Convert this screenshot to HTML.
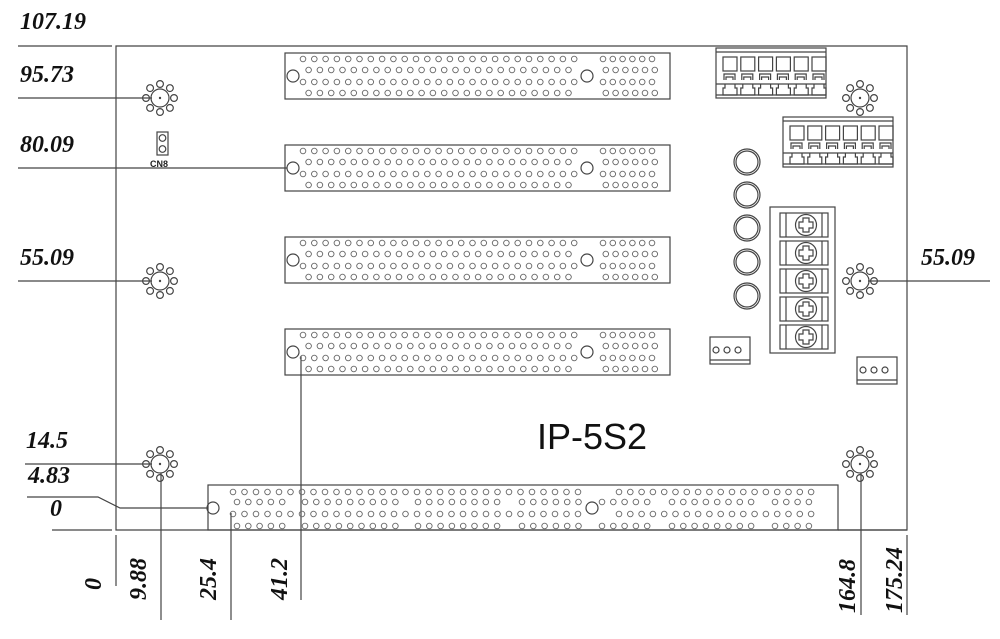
<!DOCTYPE html>
<html><head><meta charset="utf-8"><style>
html,body{margin:0;padding:0;background:#fff;}
svg{display:block;}
.d{font-family:"Liberation Serif",serif;font-style:italic;font-weight:bold;font-size:24px;fill:#111;}
</style></head><body>
<svg id="s" width="1000" height="639" viewBox="0 0 1000 639" xmlns="http://www.w3.org/2000/svg">
<g fill="none" stroke="#444" stroke-width="1.2">
<path d="M116 46 H907 V530 H116 Z"/>
<line x1="18" y1="46" x2="112" y2="46"/>
<line x1="52" y1="530" x2="112" y2="530"/>
<line x1="116" y1="535" x2="116" y2="586"/>
<line x1="18" y1="98" x2="152" y2="98"/>
<line x1="18" y1="168" x2="287" y2="168"/>
<line x1="18" y1="281" x2="152" y2="281"/>
<line x1="25" y1="464" x2="152" y2="464"/>
<polyline points="27,497 98,497 120,508 207,508"/>
<line x1="868" y1="281" x2="990" y2="281"/>
<line x1="161" y1="473" x2="161" y2="620"/>
<line x1="231" y1="513" x2="231" y2="620"/>
<line x1="301" y1="356" x2="301" y2="600"/>
<line x1="861" y1="473" x2="861" y2="615"/>
<line x1="907" y1="535" x2="907" y2="615"/>
<line x1="838" y1="530" x2="907" y2="530"/>
<rect x="285" y="53" width="385" height="46"/>
<rect x="285" y="145" width="385" height="46"/>
<rect x="285" y="237" width="385" height="46"/>
<rect x="285" y="329" width="385" height="46"/>
<rect x="208" y="485" width="630" height="45"/>
<rect x="157" y="132" width="11" height="23"/>
<circle cx="162.5" cy="138" r="3.3"/><circle cx="162.5" cy="149" r="3.3"/>
<g id="leds"></g>
<rect x="770" y="207" width="65" height="146"/>
<g id="screws"></g>
<g id="tb"></g>
<rect x="710" y="337" width="40" height="27"/><line x1="710" y1="360" x2="750" y2="360"/>
<rect x="857" y="357" width="40" height="27"/><line x1="857" y1="380" x2="897" y2="380"/>
<circle cx="716" cy="350" r="3"/><circle cx="727" cy="350" r="3"/><circle cx="738" cy="350" r="3"/>
<circle cx="863" cy="370" r="3"/><circle cx="874" cy="370" r="3"/><circle cx="885" cy="370" r="3"/>
<g id="pins" stroke="#666" stroke-width="0.9"></g>
</g>
<text x="150" y="167" font-family="Liberation Sans,sans-serif" font-size="9" font-weight="bold" fill="#222">CN8</text>
<text x="537" y="449" font-family="Liberation Sans,sans-serif" font-size="36" fill="#111">IP-5S2</text>
<text class="d" x="20" y="29">107.19</text>
<text class="d" x="20" y="82">95.73</text>
<text class="d" x="20" y="152">80.09</text>
<text class="d" x="20" y="265">55.09</text>
<text class="d" x="921" y="265">55.09</text>
<text class="d" x="26" y="448">14.5</text>
<text class="d" x="28" y="483">4.83</text>
<text class="d" x="50" y="516">0</text>
<text class="d" transform="translate(101,590) rotate(-90)">0</text>
<text class="d" transform="translate(146,600) rotate(-90)">9.88</text>
<text class="d" transform="translate(216,600) rotate(-90)">25.4</text>
<text class="d" transform="translate(287,600) rotate(-90)">41.2</text>
<text class="d" transform="translate(855,613) rotate(-90)">164.8</text>
<text class="d" transform="translate(902,613) rotate(-90)">175.24</text>
</svg>
<script>
var NS="http://www.w3.org/2000/svg";
function el(p,t,a){var e=document.createElementNS(NS,t);for(var k in a)e.setAttribute(k,a[k]);p.appendChild(e);return e;}
var P=document.getElementById('pins'),g=P.parentNode;
function c(x,y,r,par){el(par||P,'circle',{cx:x,cy:y,r:r});}
[[160,98],[160,281],[160,464],[860,98],[860,281],[860,464]].forEach(function(h){
 c(h[0],h[1],9,g);el(g,'circle',{cx:h[0],cy:h[1],r:0.6,fill:'#444'});
 for(var i=0;i<8;i++){var a=i*Math.PI/4;c(h[0]+14*Math.cos(a),h[1]+14*Math.sin(a),3.4,g);}
});
[53,145,237,329].forEach(function(y0){
 var rows=[y0+6,y0+17,y0+29,y0+40];
 rows.forEach(function(y,ri){
  var off=ri%2?5.6:0;
  for(var k=0;k<25;k++){var x=303+off+k*11.3;if(ri%2&&x>577)continue;c(x,y,2.8);}
  for(var k=0;k<6;k++)c(603+off*0.5+k*9.8,y,2.8);
 });
 c(293,y0+23,6,g);c(587,y0+23,6,g);
});
var r1=[492,514],r2=[502,526];
r1.forEach(function(y){for(var x=233;x<=582;x+=11.5)c(x,y,2.8);for(var x=619;x<=822;x+=11.3)c(x,y,2.8);});
var segs=[[237,5],[305,9],[418,8],[522,6],[602,5],[672,8],[775,4]];
r2.forEach(function(y){segs.forEach(function(s){for(var k=0;k<s[1];k++)c(s[0]+k*11.3,y,2.8);});});
c(213,508,6,g);c(592,508,6,g);
var L=document.getElementById('leds');
[162,195,228,262,296].forEach(function(y){c(747,y,13,L);c(747,y,11,L);});
var S=document.getElementById('screws');
[213,241,269,297,325].forEach(function(y){
 el(S,'rect',{x:780,y:y,width:48,height:24});
 el(S,'line',{x1:786,y1:y,x2:786,y2:y+24});el(S,'line',{x1:822,y1:y,x2:822,y2:y+24});
 c(806,y+12,10.5,S);
 el(S,'path',{d:'M803 '+(y+5)+'h6v4h4v6h-4v4h-6v-4h-4v-6h4z'});
});
var T=document.getElementById('tb');
[[716,48],[783,117]].forEach(function(b){
 var x0=b[0],y0=b[1];
 el(T,'rect',{x:x0,y:y0,width:110,height:50});
 el(T,'line',{x1:x0,y1:y0+4,x2:x0+110,y2:y0+4});
 for(var i=0;i<6;i++){
  var x=x0+7+i*17.8;
  el(T,'rect',{x:x,y:y0+9,width:14,height:14});
  el(T,'path',{d:'M'+(x+1)+' '+(y0+32)+'v-6h11v6M'+(x+3)+' '+(y0+32)+'v-3h7v3'});
  el(T,'path',{d:'M'+(x+2)+' '+(y0+36)+'v4h-2v7h14v-7h-2v-4'});
 }
 el(T,'line',{x1:x0,y1:y0+36,x2:x0+110,y2:y0+36});
 el(T,'line',{x1:x0,y1:y0+47,x2:x0+110,y2:y0+47});
});
</script>
</body></html>
